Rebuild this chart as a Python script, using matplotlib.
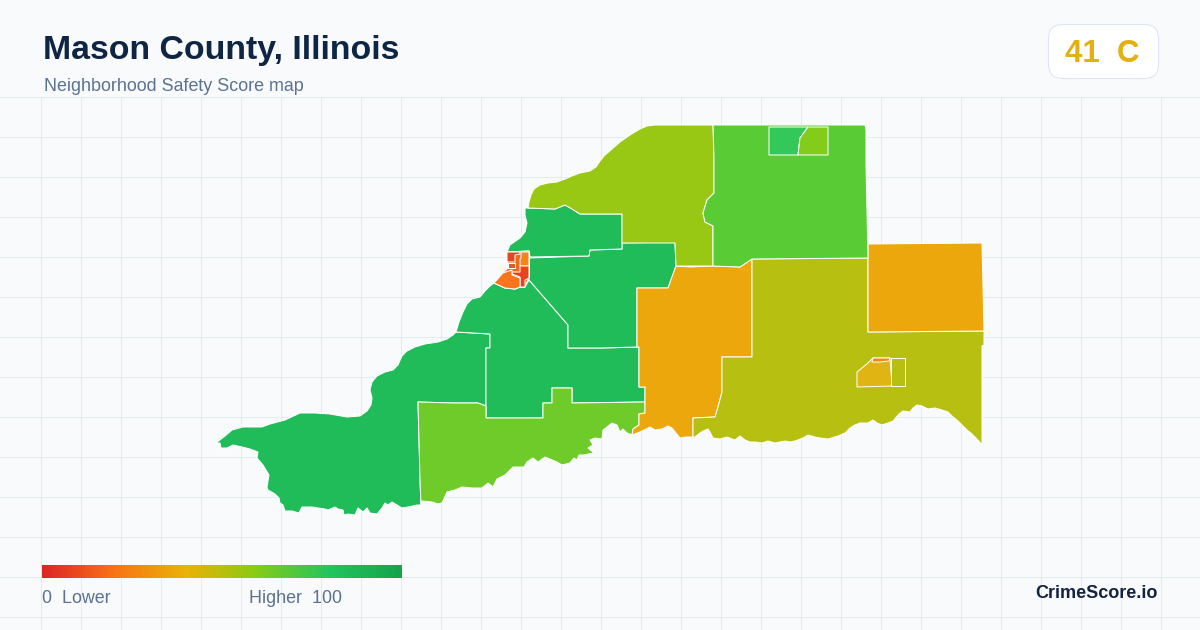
import matplotlib
matplotlib.use("Agg")
import numpy as np
import matplotlib.pyplot as plt
from matplotlib.colors import LinearSegmentedColormap
from matplotlib.patches import FancyBboxPatch, Polygon

plt.rcParams['font.family'] = ['Liberation Sans', 'DejaVu Sans']

# picture text
title = "Mason County, Illinois"
subtitle = "Neighborhood Safety Score map"
score_label = "41  C"
low_label = "0  Lower"
high_label = "Higher  100"
brand = "CrimeScore.io"

# legend ramp
ramp_stops = [0, 0.2, 0.4, 0.6, 0.8, 1]
ramp_colors = ['#dc2626', '#f97316', '#eab308', '#84cc16', '#22c55e', '#16a34a']

# tracts in pixel coords
sw_tract = [(456,332),(490,334),(490,348),(486,348),(486,406),(478,403),(453,403),(418,402),(419,440),(420,480),(421,505),
            (417,505),(413,506),(408,507),(402,508),(397,505),(392,502),(388,505),(385,503),(382,508),(377,514),(370,513),
            (367,508),(363,512),(358,508),(355,515),(348,514),(344,515),(343,510),(338,509),(335,507),(328,510),(325,509),
            (318,508),(312,507),(302,507),(299,513),(292,511),(285,511),(283,505),(280,503),(279,498),(275,494),(268,490),
            (267,487),(269,475),(263,465),(257,458),(258,452),(250,449),(242,447),(233,445),(227,448),(221,448),
            (220,443),(216,443),(225,436),(232,430),(243,427),(262,427),(270,424),(285,420),(300,413),(315,413),
            (330,414),(347,417),(360,416),(367,411),(371,405),(372,398),(370,390),(372,382),(377,376),(385,372),(393,370),
            (398,365),(402,356),(407,351),(415,347),(425,344),(438,342),(447,339),(453,335)]
mid_tract = [(456,332),(459,322),(463,312),(467,304),(472,299),(480,297),(485,291),(490,286),(494,283),(505,288),(515,289),
             (520,287),(525,287),(529,280),(568,325),(568,348),(602,348),(639,347),(639,387),(645,387),(645,402),(572,403),
             (572,388),(552,388),(552,403),(543,403),(543,418),(486,418),(486,348),(490,348),(490,334)]
east_tract = [(529,258),(589,256),(590,250),(622,249),(622,243),(675,242),(676,266),(668,288),(637,288),(637,347),
              (602,348),(568,348),(568,325),(529,280),(529,277)]
north_tract = [(525,208),(528,208),(555,209),(565,205),(572,209),(580,214),(622,214),(622,249),(590,250),(589,256),
               (530,257),(529,251),(507,252),(510,245),(520,238),(525,232),(527,223),(525,215)]
south_tract = [(418,402),(453,403),(478,403),(486,406),(486,418),(543,418),(543,403),(552,403),(552,388),(572,388),(572,403),
               (645,402),(645,413),(639,414),(639,425),(633,429),(632,435),(627,433),(623,429),(620,432),(617,425),(612,423),
               (607,427),(603,430),(602,439),(595,438),(590,440),(593,445),(588,448),(594,453),(583,455),(579,455),(577,460),
               (574,458),(570,463),(562,465),(557,462),(545,457),(538,462),(533,458),(527,462),(524,467),(513,467),(510,470),
               (505,475),(497,479),(493,487),(488,483),(482,488),(472,488),(462,487),(455,490),(447,492),(442,503),(438,504),
               (432,502),(422,501),(421,505),(420,480),(419,440)]
orange_mid = [(637,288),(668,288),(676,266),(690,267),(713,266),(740,267),(752,259),(752,357),(722,357),(722,392),(718,407),
              (715,417),(693,418),(693,437),(686,437),(680,438),(676,433),(672,428),(668,426),(662,429),(655,430),(650,427),
              (640,432),(632,435),(633,429),(639,425),(639,414),(645,413),(645,387),(639,387),(639,347),(637,347)]
olive_tract = [(752,259),(868,258),(868,332),(984,331),(984,345),(982,346),(982,445),(978,440),(972,434),(967,430),(962,425),
               (958,421),(952,416),(948,412),(942,410),(935,408),(928,409),(922,406),(917,405),(913,408),(910,412),(903,411),
               (899,414),(893,421),(888,423),(882,425),(877,423),(873,420),(868,423),(860,423),(855,425),(850,428),(845,433),
               (838,436),(828,439),(820,438),(815,437),(808,435),(803,438),(795,441),(790,442),(785,441),(775,443),(768,441),
               (762,443),(755,442),(750,442),(745,440),(740,436),(735,440),(727,437),(720,439),(713,438),(710,432),(708,429),
               (703,431),(700,433),(695,437),(693,437),(693,418),(715,417),(718,407),(722,392),(722,357),(752,357)]
orange_east = [(868,244),(982,243),(984,331),(868,332)]
lime_north = [(528,208),(529,202),(531,195),(534,189),(540,185),(548,183),(557,182),(565,179),(572,176),(580,173),(590,171),
              (596,167),(600,161),(604,156),(612,149),(620,142),(630,135),(640,129),(647,126),(655,125),
              (713,125),(714,158),(714,193),(707,200),(703,213),(705,222),(713,226),(713,266),(676,266),
              (675,243),(622,243),(622,214),(580,214),(572,209),(565,205),(555,209)]
green_ne = [(713,125),(865,125),(866,130),(866,165),(868,258),(752,259),(740,267),(713,266),(713,226),(705,222),
            (703,213),(707,200),(714,193),(714,158)]
green_small = [(769,127),(808,127),(800,138),(798,155),(769,155)]
lime_small = [(808,127),(828,127),(828,155),(798,155),(800,138)]
town_yellow = [(857,387),(857,372),(868,363),(873,358),(890,358),(892,386)]
town_orange = [(872,362),(873,358),(890,358),(889,361),(880,362)]
town_olive = [(891,358),(905,358),(905,386),(891,386)]
river_nw = [(508,268),(507,252),(529,251),(529,277),(525,287),(520,287),(515,289),(505,288),(494,283),(503,273)]
river_red = [(507,252),(520,252),(520,254),(515,255),(515,262),(507,262)]
river_orange = [(521,252),(529,252),(529,266),(520,266),(520,259),(521,258)]
river_small = [(508,263),(515,263),(515,268),(508,268)]
river_center = [(512,272),(520,272),(520,266),(529,266),(529,278),(525,280),(525,287),(520,287),(520,277),(512,274)]
river_sw = [(494,283),(503,273),(512,270),(512,275),(520,278),(520,287),(515,289),(505,288)]

tracts = [
    (sw_tract, '#20bc5a'), (mid_tract, '#20bc5a'), (east_tract, '#20bc5a'), (north_tract, '#20bc5a'),
    (south_tract, '#6ecb2a'), (orange_mid, '#eca70c'), (olive_tract, '#b7c011'), (orange_east, '#eca70c'),
    (lime_north, '#98c813'), (green_ne, '#59cb35'), (green_small, '#34c759'), (lime_small, '#84cc1b'),
    (town_yellow, '#e0b412'), (town_orange, '#f5851a'), (town_olive, '#b7c011'),
    (river_nw, '#ee6a1c'), (river_red, '#e2491f'), (river_orange, '#f5851a'), (river_small, '#e8591e'),
    (river_center, '#e5441f'), (river_sw, '#f9741a'),
]

fig = plt.figure(figsize=(12, 6.3), dpi=100, facecolor='#f8fafc')
ax = fig.add_axes([0, 0, 1, 1])
ax.set_facecolor('#f8fafc')

# background grid
for x in range(40, 1200, 40):
    ax.plot([x + 0.5, x + 0.5], [97, 630], c='#e2ebef', lw=0.72, zorder=1)
for y in range(97, 630, 40):
    ax.plot([0, 1200], [y - 0.5, y - 0.5], c='#e2ebef', lw=0.72, zorder=1)

for pts, col in tracts:
    ax.add_patch(Polygon(pts, closed=True, fc=col, ec='#ffffff', lw=0.72, joinstyle='round', zorder=3))

ax.text(43, 59.5, title, fontsize=24.4, fontweight='bold', color='#0f2544', va='baseline', ha='left', zorder=5)
ax.text(44, 90.7, subtitle, fontsize=12.85, color='#5b7290', va='baseline', ha='left', zorder=5)

# score badge
ax.add_patch(FancyBboxPatch((1048.5, 24.5), 110, 54, boxstyle='round,pad=0,rounding_size=14', fc='#ffffff',
                            ec='#dfe5ee', lw=0.8, zorder=4))
ax.text(1102.5, 61.7, score_label, fontsize=22.5, fontweight='bold', color='#e3b010', va='baseline', ha='center', zorder=5)

# legend
cmap = LinearSegmentedColormap.from_list('score', list(zip(ramp_stops, ramp_colors)))
ax.imshow(np.linspace(0, 1, 360).reshape(1, -1), cmap=cmap, extent=(42, 402, 578, 565), aspect='auto', zorder=4)
ax.text(42, 602.7, low_label, fontsize=12.85, color='#5b7290', va='baseline', ha='left', zorder=5)
ax.text(249, 602.7, high_label, fontsize=12.85, color='#5b7290', va='baseline', ha='left', zorder=5)
ax.text(1158, 598.5, brand, fontsize=13, fontweight='bold', color='#14233f', va='baseline', ha='right', zorder=5)

ax.set_xlim(0, 1200)
ax.set_ylim(630, 0)
ax.axis('off')
fig.savefig('out.png', dpi=100, facecolor=fig.get_facecolor())
